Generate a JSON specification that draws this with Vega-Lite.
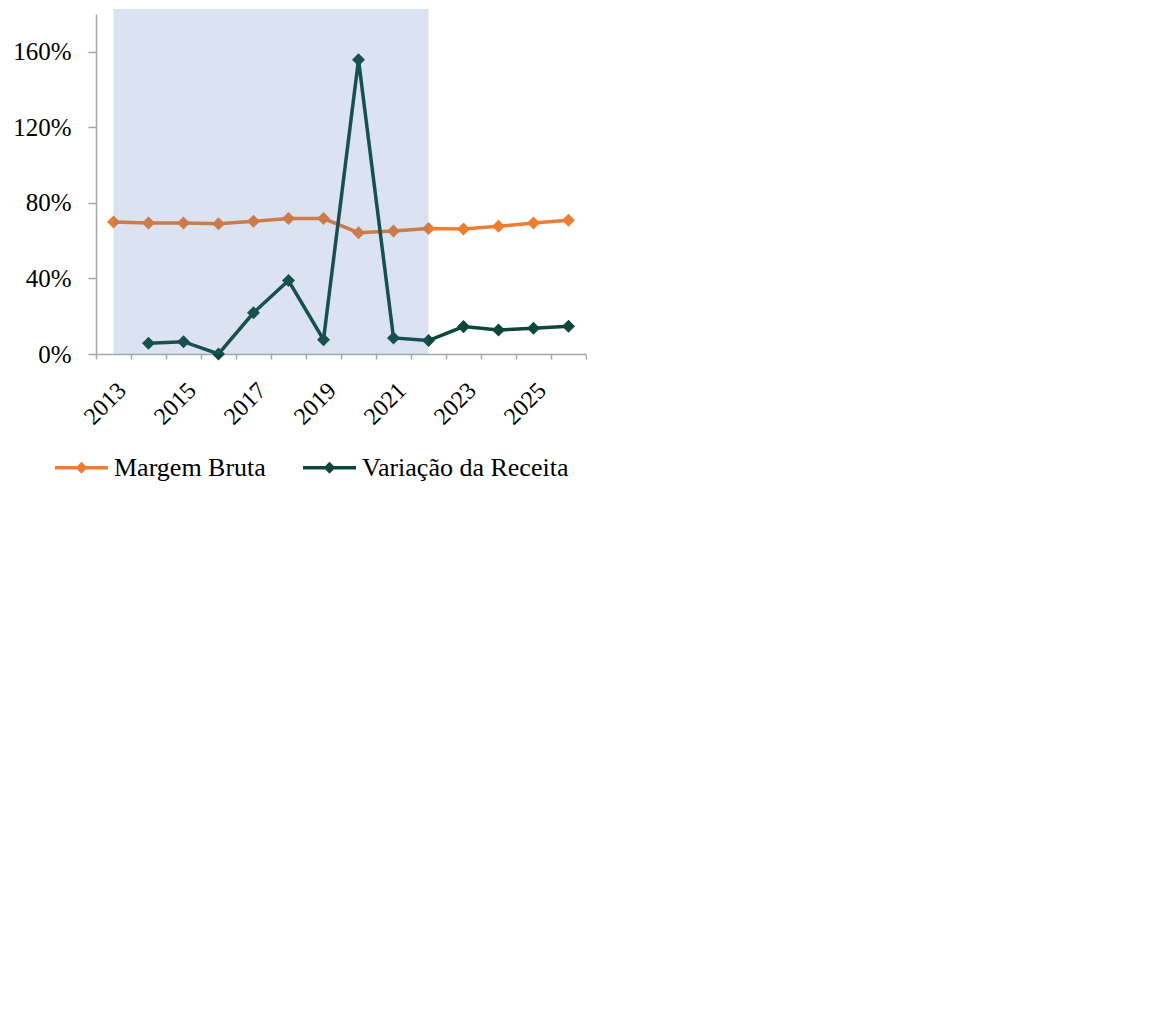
{
  "$schema": "https://vega.github.io/schema/vega-lite/v6.json",
  "padding": {"left": 12, "top": 9, "right": 0, "bottom": 0},
  "background": "white",
  "config": {
    "font": "Liberation Serif",
    "view": {"stroke": null},
    "axis": {"grid": false, "labelFont": "Liberation Serif", "labelColor": "black", "domainColor": "#A6A6A6", "tickColor": "#A6A6A6", "domainWidth": 1.5, "tickWidth": 1.5},
    "axisX": {"labelAngle": -45, "labelAlign": "right", "labelBaseline": "top", "labelFontSize": 24, "tickSize": 5, "labelPadding": 19, "tickBand": "extent", "labelOverlap": false},
    "axisY": {"tickSize": 8, "labelPadding": 17, "labelFontSize": 25},
    "legend": {"orient": "none", "direction": "horizontal", "labelFont": "Liberation Serif", "labelFontSize": 26, "labelColor": "black", "labelLimit": 600, "symbolType": "M-1,0L1,0M0,-0.13L0.13,0L0,0.13L-0.13,0ZM0,-0.05L0.05,0L0,0.05L-0.05,0Z", "symbolSize": 2809, "symbolStrokeWidth": 3.5, "columnPadding": 30, "labelOffset": 4}
  },
  "datasets": {
    "p1": [
      {"serie": "Margem Bruta", "ano": "2013", "v": 0.699},
      {"serie": "Margem Bruta", "ano": "2014", "v": 0.694},
      {"serie": "Margem Bruta", "ano": "2015", "v": 0.694},
      {"serie": "Margem Bruta", "ano": "2016", "v": 0.690},
      {"serie": "Margem Bruta", "ano": "2017", "v": 0.703},
      {"serie": "Margem Bruta", "ano": "2018", "v": 0.717},
      {"serie": "Margem Bruta", "ano": "2019", "v": 0.717},
      {"serie": "Margem Bruta", "ano": "2020", "v": 0.642},
      {"serie": "Margem Bruta", "ano": "2021", "v": 0.651},
      {"serie": "Margem Bruta", "ano": "2022", "v": 0.664},
      {"serie": "Margem Bruta", "ano": "2023", "v": 0.662},
      {"serie": "Margem Bruta", "ano": "2024", "v": 0.676},
      {"serie": "Margem Bruta", "ano": "2025", "v": 0.694},
      {"serie": "Margem Bruta", "ano": "2026", "v": 0.708},
      {"serie": "Variação da Receita", "ano": "2014", "v": 0.057},
      {"serie": "Variação da Receita", "ano": "2015", "v": 0.065},
      {"serie": "Variação da Receita", "ano": "2016", "v": 0.0},
      {"serie": "Variação da Receita", "ano": "2017", "v": 0.218},
      {"serie": "Variação da Receita", "ano": "2018", "v": 0.389},
      {"serie": "Variação da Receita", "ano": "2019", "v": 0.076},
      {"serie": "Variação da Receita", "ano": "2020", "v": 1.558},
      {"serie": "Variação da Receita", "ano": "2021", "v": 0.085},
      {"serie": "Variação da Receita", "ano": "2022", "v": 0.071},
      {"serie": "Variação da Receita", "ano": "2023", "v": 0.145},
      {"serie": "Variação da Receita", "ano": "2024", "v": 0.127},
      {"serie": "Variação da Receita", "ano": "2025", "v": 0.136},
      {"serie": "Variação da Receita", "ano": "2026", "v": 0.147}
    ]
  },
  "width": 490, "height": 340,
  "layer": [
    {
      "data": {"name": "p1"},
      "mark": {"type": "line", "strokeWidth": 3.5, "point": {"shape": "diamond", "size": 170, "filled": true}},
      "encoding": {
        "x": {"field": "ano", "type": "ordinal", "title": null,
          "scale": {"type": "band", "domain": ["2013","2014","2015","2016","2017","2018","2019","2020","2021","2022","2023","2024","2025","2026"], "paddingInner": 0, "paddingOuter": 0},
          "axis": {"labelExpr": "toNumber(datum.value) % 2 == 1 ? datum.value : ''"}},
        "y": {"field": "v", "type": "quantitative", "title": null,
          "scale": {"domain": [0, 1.8], "nice": false},
          "axis": {"values": [0, 0.2, 0.4, 0.6, 0.8, 1.0, 1.2, 1.4, 1.6, 1.8], "format": ".0%"}},
        "color": {"field": "serie", "type": "nominal", "title": null,
          "scale": {"domain": ["Margem Bruta", "Variação da Receita"], "range": ["#ED7D31", "#0C473A"]},
          "legend": {"legendX": -43, "legendY": 425}}
      }
    },
    {
      "data": {"values": [{"ini": "2013", "fim": "2022"}]},
      "mark": {"type": "rect", "color": "#4A74B4", "opacity": 0.2, "clip": false},
      "encoding": {
        "x": {"field": "ini", "type": "ordinal", "title": null},
        "x2": {"field": "fim"},
        "y": {"datum": 1.826, "type": "quantitative"},
        "y2": {"datum": 0}
      }
    }
  ]
}
